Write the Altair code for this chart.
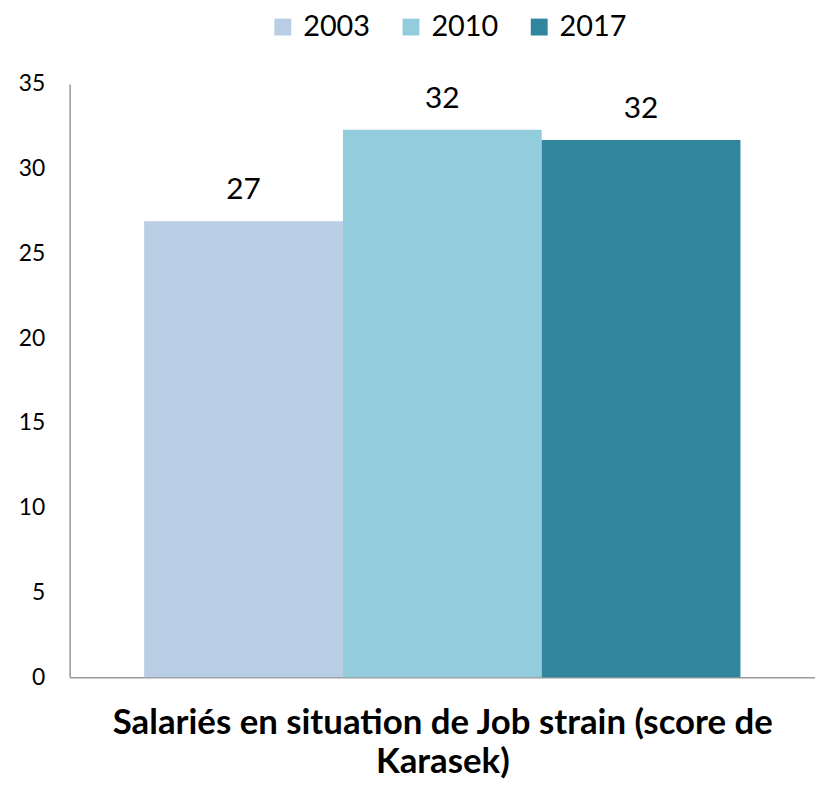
import altair as alt
import pandas as pd

years = ["2003", "2010", "2017"]
values = [26.9, 32.3, 31.7]
labels = ["27", "32", "32"]
category = "Salariés en situation de Job strain (score de Karasek)"
colors = ["#B9CDE5", "#93CDDD", "#31859C"]

df = pd.DataFrame({
    "cat": [category] * len(years),
    "year": years,
    "value": values,
    "label": labels,
})

FONT = "Lato"

base = alt.Chart(df).encode(
    x=alt.X(
        "cat:N",
        scale=alt.Scale(paddingInner=0, paddingOuter=0.125),
        axis=alt.Axis(
            labels=False,
            ticks=False,
            domainColor="#999999",
            domainWidth=1.5,
            title=["Salariés en situation de Job strain (score de", "Karasek)"],
            titleFont=FONT,
            titleFontSize=35,
            titleFontWeight="bold",
            titleColor="#000000",
            titlePadding=29,
            titleLineHeight=39,
        ),
    ),
    xOffset=alt.XOffset("year:N", scale=alt.Scale(paddingInner=0, paddingOuter=0)),
)

bars = base.mark_bar().encode(
    y=alt.Y(
        "value:Q",
        scale=alt.Scale(domain=[0, 35], nice=False),
        axis=alt.Axis(
            values=[0, 5, 10, 15, 20, 25, 30, 35],
            grid=False,
            ticks=False,
            domainColor="#999999",
            domainWidth=1.5,
            labelFont=FONT,
            labelFontSize=23,
            labelColor="#000000",
            labelPadding=25,
            title=None,
        ),
    ),
    color=alt.Color(
        "year:N",
        scale=alt.Scale(domain=years, range=colors),
        legend=alt.Legend(
            title=None,
            orient="none",
            direction="horizontal",
            legendX=200,
            legendY=-72,
            symbolType="square",
            symbolSize=289,
            symbolStrokeWidth=0,
            symbolOpacity=1,
            labelFont=FONT,
            labelFontSize=29,
            labelColor="#000000",
            labelOffset=6,
            columnPadding=26,
        ),
    ),
)

text = base.mark_text(
    font=FONT, fontSize=30, color="#000000", baseline="alphabetic", dy=-22
).encode(
    y=alt.Y("value:Q"),
    text="label:N",
)

chart = (
    alt.layer(bars, text)
    .properties(
        width=750,
        height=597,
        autosize=alt.AutoSizeParams(type="none"),
        padding={"left": 62, "top": 74, "right": 0, "bottom": 106},
    )
    .configure_view(stroke=None)
)

chart.save("out.html", embed_options={"renderer": "svg", "actions": False})
